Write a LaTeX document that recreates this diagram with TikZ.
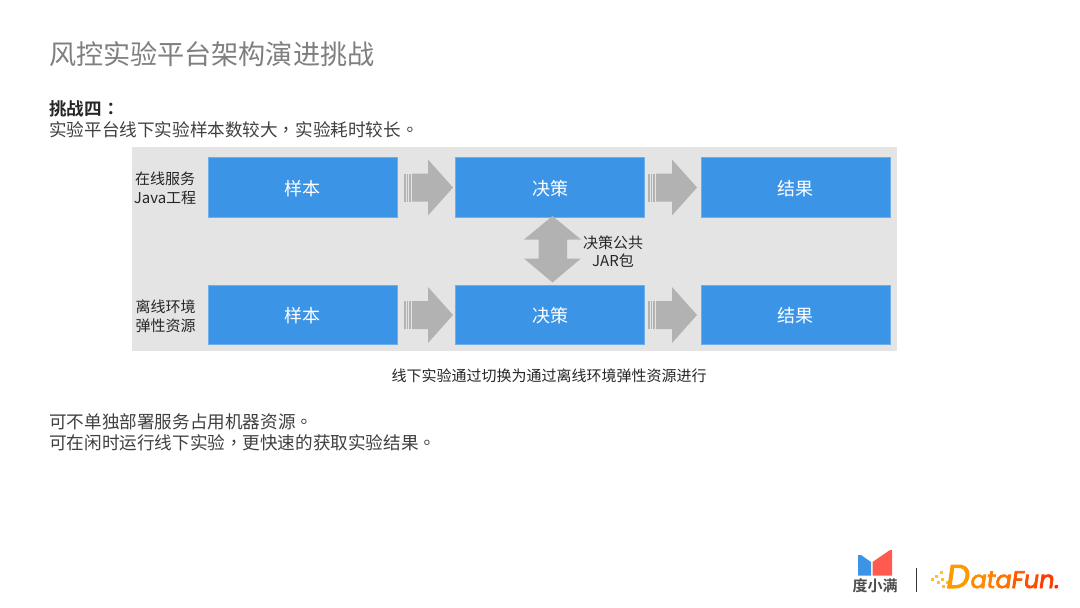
\documentclass[tikz,border=0pt]{standalone}
\usepackage{fontspec}
\setmainfont{Noto Sans CJK SC}
\newfontfamily\cjkbold{Noto Sans CJK SC Bold}
\newfontfamily\punc{Noto Sans CJK TC}
\newfontfamily\puncbold{Noto Sans CJK TC Bold}
\newfontfamily\logofont{Poppins}[FakeSlant=0.15,FakeBold=3]
\definecolor{bluebox}{HTML}{3C94E6}
\definecolor{panel}{HTML}{E4E4E4}
\definecolor{arrowgray}{HTML}{B2B2B2}
\definecolor{titlegray}{HTML}{7F7F7F}
\definecolor{bodytxt}{HTML}{404040}
\definecolor{logored}{HTML}{FF5A50}
\definecolor{logoyellow}{HTML}{FFC02A}
\tikzset{
  x=1pt,y=-1pt,
  bluenode/.style={fill=bluebox,draw=bluebox!75!white,line width=0.5pt,minimum width=189pt,minimum height=59.5pt,inner sep=0pt,text=white,font=\fontsize{18}{20}\selectfont},
  txt/.style={inner sep=0pt,anchor=west,text=bodytxt,font=\fontsize{17.6}{22}\selectfont},
  side/.style={inner sep=0pt,align=center,text=black!85,font=\fontsize{15}{18.5}\selectfont},
  flow/.style={fill=arrowgray,draw=none},
}
\newcommand{\flowarrow}[2]{%
 \fill[arrowgray] (#1,#2-14) rectangle ++(1.5,28);
 \fill[arrowgray] (#1+2.7,#2-14) rectangle ++(1.5,28);
 \fill[arrowgray] (#1+5.4,#2-14) rectangle ++(1.8,28);
 \fill[flow] (#1+8,#2-14) -- (#1+24,#2-14) -- (#1+24,#2-28) -- (#1+49,#2) -- (#1+24,#2+28) -- (#1+24,#2+14) -- (#1+8,#2+14) -- cycle;
}
\newcommand{\boxtext}[1]{\raisebox{-8.3pt}[0pt][0pt]{#1}}
\begin{document}
\begin{tikzpicture}
\useasboundingbox (0,0) rectangle (1080,608);
\fill[white] (0,0) rectangle (1080,608);
\node[txt,text=titlegray,font=\fontsize{27.1}{32}\selectfont] (title) at (49,54) {风控实验平台架构演进挑战};
\node[txt,text=black!85,font=\fontsize{17.6}{22}\cjkbold] (ch) at (49,108.5) {挑战四{\puncbold ：}};
\node[txt] (l1) at (49,130) {实验平台线下实验样本数较大{\punc ，}实验耗时较长{\punc 。}};
\fill[panel] (132,146.5) rectangle (897,351);
\node[bluenode] (a1) at (302.5,187) {\boxtext{样本}};
\node[bluenode] (a2) at (550,187) {\boxtext{决策}};
\node[bluenode] (a3) at (795.5,187) {\boxtext{结果}};
\node[bluenode] (b1) at (302.5,314.5) {\boxtext{样本}};
\node[bluenode] (b2) at (550,314.5) {\boxtext{决策}};
\node[bluenode] (b3) at (795.5,314.5) {\boxtext{结果}};
\flowarrow{404}{187.5}
\flowarrow{648}{187.5}
\flowarrow{404}{315}
\flowarrow{648}{315}
\fill[flow] (552.5,216) -- (581,239.5) -- (567,239.5) -- (567,258.5) -- (581,258.5) -- (552.5,282.5) -- (524,258.5) -- (538.5,258.5) -- (538.5,239.5) -- (524,239.5) -- cycle;
\node[side] (s1) at (165,188.5) {在线服务\\Java工程};
\node[side] (s2) at (165.5,316.5) {离线环境\\弹性资源};
\node[side] (s3) at (613,251.5) {决策公共\\JAR包};
\node[inner sep=0pt,text=black!85,font=\fontsize{15}{18}\selectfont] (cap) at (549,375.5) {线下实验通过切换为通过离线环境弹性资源进行};
\node[txt] (l2) at (49,421.5) {可不单独部署服务占用机器资源{\punc 。}};
\node[txt] (l3) at (49,443) {可在闲时运行线下实验{\punc ，}更快速的获取实验结果{\punc 。}};
% logo 度小满
\fill[bluebox] (858,555) -- (861,555) -- (871,562) -- (871,575.5) -- (858,575.5) -- cycle;
\fill[logored] (872.5,562) -- (890,550) -- (892,550) -- (892,575.5) -- (872.5,575.5) -- cycle;
\node[inner sep=0pt,text=black!70,font=\fontsize{15}{16}\cjkbold] (dxm) at (875,586) {度小满};
\fill[black!80] (915.5,568) rectangle (917,592);
% logo DataFun
\foreach \px/\py in {940/571, 935/574.5, 931/578, 941/577.5, 936.5/581, 946/580.5, 941.5/585, 947/585}
  \fill[logoyellow] (\px,\py) rectangle ++(3.4,3.4);
\node[inner sep=0pt,anchor=base west,font=\fontsize{24}{30}\logofont] (df) at (945,588) {\textcolor{orange!80!yellow}{\fontsize{33}{30}\selectfont D}\kern1pt\textcolor{orange!90!yellow}{a}\textcolor{orange}{t}\textcolor{orange!90!red}{a}\textcolor{orange!70!red}{F}\textcolor{orange!60!red}{u}\textcolor{orange!45!red}{n}\textcolor{orange!30!red}{.}};
\end{tikzpicture}
\end{document}
